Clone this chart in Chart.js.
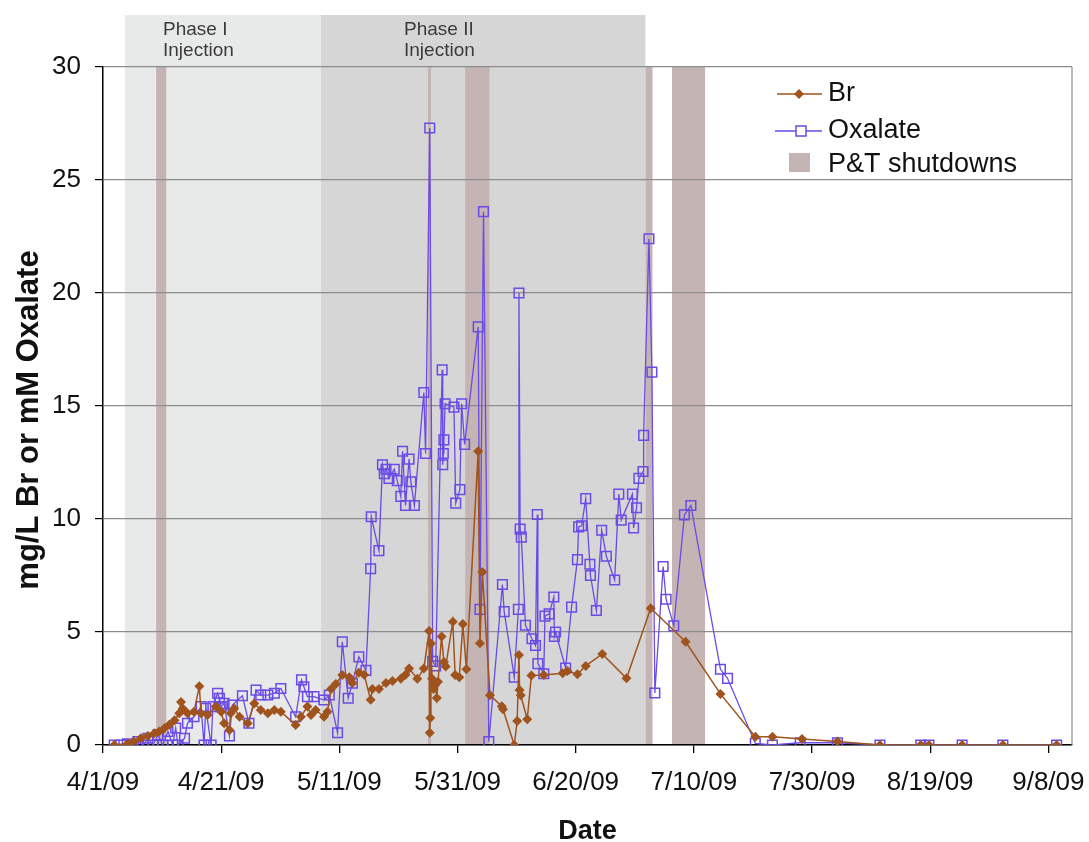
<!DOCTYPE html>
<html>
<head>
<meta charset="utf-8">
<title>Br and oxalate</title>
<script src="https://cdn.jsdelivr.net/npm/chart.js@4.4.1/dist/chart.umd.min.js"></script>
<style>
  body { margin: 0; background: #fff; }
  #wrap { width: 1089px; height: 842px; position: relative; }
</style>
</head>
<body>
<div id="wrap"><canvas id="chart"></canvas></div>
<script>
// sample times are days counted from 4/1/09
const brDays = [1.9, 4.2, 5.2, 6.4, 7.6, 8.7, 9.5, 10.4, 11.2, 12.1, 12.9, 13.2, 13.5, 14.3, 15.4, 16.3, 16.6, 17.7, 19.1, 20.0,
  20.5, 21.4, 21.6, 22.2, 23.1, 24.5, 25.6, 26.7, 27.9, 29.0, 30.1, 32.6, 33.5, 34.6, 35.2, 36.0, 37.4, 38.0, 38.6, 39.4,
  40.5, 41.7, 42.2, 43.3, 44.2, 45.3, 45.6, 46.7, 47.9, 49.0, 50.4, 51.2, 51.8, 53.2, 54.3, 55.2, 55.3, 55.4, 55.5, 55.7,
  55.9, 56.2, 56.5, 56.7, 57.3, 57.7, 58.0, 59.2, 59.6, 60.3, 60.9, 61.5, 63.5, 63.8, 64.2, 65.5, 67.5, 67.7, 69.6, 70.1,
  70.4, 70.5, 70.7, 71.8, 72.5, 74.6, 77.8, 78.6, 80.3, 81.7, 84.5, 88.6, 92.7, 98.6, 104.5, 110.4, 113.3, 118.3, 124.3, 131.5,
  138.4, 139.8, 145.4, 152.3, 161.4];
const brValues = [0, 0.07, 0.15, 0.3, 0.4, 0.52, 0.6, 0.74, 0.9, 1.1, 1.4, 1.9, 1.62, 1.4, 1.47, 2.6, 1.4, 1.33, 1.7, 1.47,
  0.96, 0.66, 1.4, 1.62, 1.25, 0.96, 1.84, 1.55, 1.4, 1.55, 1.47, 0.88, 1.25, 1.7, 1.33, 1.55, 1.25, 1.47, 2.48, 2.7,
  3.1, 3.0, 2.74, 3.2, 3.11, 2.0, 2.48, 2.48, 2.74, 2.83, 2.93, 3.11, 3.38, 2.93, 3.38, 5.04, 0.54, 1.19, 4.49, 2.93,
  2.48, 2.65, 2.08, 2.8, 4.8, 3.67, 3.47, 5.45, 3.1, 3.0, 5.35, 3.35, 13.0, 4.5, 7.65, 2.2, 1.72, 1.58, 0, 1.06,
  3.98, 2.43, 2.2, 1.14, 3.07, 3.1, 3.17, 3.27, 3.13, 3.5, 4.03, 2.95, 6.05, 4.57, 2.26, 0.37, 0.37, 0.27, 0.15, 0,
  0, 0, 0, 0, 0];

const oxDays = [1.9, 3.0, 4.1, 4.9, 5.9, 6.8, 7.6, 8.5, 9.3, 10.1, 11.0, 11.8, 12.3, 12.7, 13.8, 14.3, 15.4, 16.6, 17.1, 17.4,
  18.3, 18.6, 19.4, 19.7, 20.0, 20.5, 21.4, 21.9, 23.6, 24.7, 25.9, 26.7, 27.9, 29.0, 30.1, 32.6, 33.6, 34.0, 34.6, 35.7,
  37.4, 38.3, 39.7, 40.5, 41.5, 42.2, 43.3, 44.5, 45.3, 45.4, 46.7, 47.3, 47.6, 47.9, 48.4, 49.3, 49.8, 50.4, 50.7, 51.2,
  51.8, 52.1, 52.7, 54.3, 54.6, 55.3, 55.8, 56.3, 57.4, 57.5, 57.6, 57.7, 57.9, 59.4, 59.7, 60.4, 60.7, 61.2, 63.5, 63.8,
  64.4, 65.3, 67.6, 67.9, 69.6, 70.3, 70.4, 70.6, 70.8, 71.5, 72.6, 73.2, 73.5, 73.6, 74.6, 74.8, 75.5, 76.3, 76.4, 76.6,
  78.3, 79.3, 80.3, 80.5, 81.0, 81.7, 82.4, 82.5, 83.5, 84.4, 85.2, 86.6, 87.3, 87.7, 89.6, 89.8, 90.3, 90.7, 91.4, 91.5,
  92.4, 92.9, 93.4, 94.8, 95.3, 96.6, 98.4, 99.5, 104.5, 105.7, 110.4, 113.3, 118.0, 124.3, 131.5, 138.4, 139.8, 145.4, 152.3, 161.4];
const oxValues = [0, 0, 0.05, 0, 0.15, 0, 0.3, 0, 0.45, 0, 0.6, 0, 0.75, 0, 0.3, 0.96, 1.25, 1.7, 0, 1.62,
  0, 1.7, 2.29, 2.07, 1.7, 1.84, 0.4, 1.77, 2.18, 0.96, 2.43, 2.21, 2.21, 2.29, 2.5, 1.25, 2.88, 2.58, 2.14, 2.14,
  1.99, 2.21, 0.54, 4.57, 2.07, 2.73, 3.9, 3.3, 7.8, 10.1, 8.6, 12.4, 12.0, 12.2, 11.8, 12.2, 11.7, 11.0, 13.0, 10.6,
  12.65, 11.65, 10.6, 15.6, 12.9, 27.3, 3.7, 3.5, 16.6, 12.4, 12.9, 13.5, 15.1, 14.95, 10.7, 11.3, 15.1, 13.3, 18.5, 6.0,
  23.6, 0.15, 7.1, 5.9, 3.0, 6.0, 20.0, 9.55, 9.2, 5.3, 4.7, 4.4, 10.2, 3.6, 3.15, 5.7, 5.8, 6.55, 4.8, 5.0,
  3.4, 6.1, 8.2, 9.65, 9.7, 10.9, 8.0, 7.5, 5.95, 9.5, 8.35, 7.3, 11.1, 9.95, 11.1, 9.6, 10.5, 11.8, 12.1, 13.7,
  22.4, 16.5, 2.3, 7.9, 6.45, 5.27, 10.18, 10.6, 3.35, 2.95, 0.07, 0, 0.1, 0.1, 0, 0, 0, 0, 0, 0];

const phaseLabels = [['Phase I', 'Injection'], ['Phase II', 'Injection']];
const phaseStart = [3.7, 36.9];
const phaseEnd = [36.9, 91.8];
const shutdownStart = [9.0, 55.0, 61.3, 91.8, 96.3];
const shutdownEnd = [10.7, 55.5, 65.4, 93.0, 101.9];
const xTicks = [0, 20, 40, 60, 80, 100, 120, 140, 160];

const FONT = '"Liberation Sans", Arial, Helvetica, sans-serif';
const brColor = '#a0531c';
const oxColor = '#6a4be6';
const phaseColors = ['#e8eaea', '#d6d6d6'];
const shutdownColor = '#c4b4b4';

function dateLabel(day) {
  const d = new Date(2009, 3, 1 + day);
  return (d.getMonth() + 1) + '/' + d.getDate() + '/09';
}

const pairs = (xs, ys) => xs.map((x, i) => ({ x: x, y: ys[i] }));

const backdrop = {
  id: 'backdrop',
  beforeDraw(chart) {
    const { ctx, chartArea: a } = chart;
    const x = chart.scales.x;
    ctx.save();
    ctx.fillStyle = '#fff';
    ctx.fillRect(0, 0, chart.width, chart.height);
    // phase bands reach above the plot
    phaseStart.forEach((s, i) => {
      const x0 = x.getPixelForValue(s), x1 = x.getPixelForValue(phaseEnd[i]);
      ctx.fillStyle = phaseColors[i];
      ctx.fillRect(x0, 15, x1 - x0, a.bottom - 15);
    });
    ctx.fillStyle = shutdownColor;
    shutdownStart.forEach((s, i) => {
      const x0 = x.getPixelForValue(s), x1 = x.getPixelForValue(shutdownEnd[i]);
      ctx.fillRect(x0, a.top, x1 - x0, a.bottom - a.top);
    });
    // phase captions
    const labelX = [163, 404];
    ctx.fillStyle = '#3a3a3a';
    ctx.font = '19px ' + FONT;
    ctx.textBaseline = 'middle';
    phaseLabels.forEach((lines, i) => {
      lines.forEach((t, j) => ctx.fillText(t, labelX[i], 30 + j * 21));
    });
    ctx.restore();
  },
  afterDraw(chart) {
    const { ctx, chartArea: a } = chart;
    ctx.save();
    // right frame
    ctx.strokeStyle = '#8c8c8c';
    ctx.lineWidth = 1.2;
    ctx.beginPath();
    ctx.moveTo(a.right, a.top);
    ctx.lineTo(a.right, a.bottom);
    ctx.stroke();

    // y axis title, sits a little below the axis middle
    ctx.save();
    ctx.translate(29, 420);
    ctx.rotate(-Math.PI / 2);
    ctx.font = 'bold 31px ' + FONT;
    ctx.textAlign = 'center';
    ctx.textBaseline = 'middle';
    ctx.fillStyle = '#111';
    ctx.fillText('mg/L Br or mM Oxalate', 0, 0);
    ctx.restore();

    // legend
    ctx.font = '27px ' + FONT;
    ctx.textBaseline = 'middle';
    ctx.fillStyle = '#111';
    ctx.strokeStyle = brColor;
    ctx.lineWidth = 1.5;
    ctx.beginPath(); ctx.moveTo(777, 94); ctx.lineTo(822, 94); ctx.stroke();
    ctx.fillStyle = brColor;
    ctx.beginPath();
    ctx.moveTo(799, 89); ctx.lineTo(804, 94); ctx.lineTo(799, 99); ctx.lineTo(794, 94);
    ctx.closePath(); ctx.fill();
    ctx.fillStyle = '#111';
    ctx.fillText('Br', 828, 94);

    ctx.strokeStyle = oxColor;
    ctx.lineWidth = 1.3;
    ctx.beginPath(); ctx.moveTo(775, 131); ctx.lineTo(796, 131); ctx.moveTo(806, 131); ctx.lineTo(822, 131); ctx.stroke();
    ctx.lineWidth = 1.5;
    ctx.strokeRect(796, 126, 10, 10);
    ctx.fillText('Oxalate', 828, 131);

    ctx.fillStyle = shutdownColor;
    ctx.fillRect(789, 153, 21, 19);
    ctx.fillStyle = '#111';
    ctx.fillText('P&T shutdowns', 828, 165);
    ctx.restore();
  }
};

new Chart(document.getElementById('chart'), {
  type: 'line',
  data: {
    datasets: [
      {
        label: 'Br',
        data: pairs(brDays, brValues),
        borderColor: brColor,
        backgroundColor: brColor,
        borderWidth: 1.5,
        pointStyle: 'rectRot',
        pointRadius: 5,
        pointBorderWidth: 0,
        pointBackgroundColor: brColor,
        order: 0
      },
      {
        label: 'Oxalate',
        data: pairs(oxDays, oxValues),
        borderColor: oxColor,
        borderWidth: 1.3,
        pointStyle: 'rect',
        pointRadius: 6.8,
        pointBorderWidth: 1.5,
        pointBorderColor: oxColor,
        pointBackgroundColor: 'rgba(0,0,0,0)',
        order: 1
      }
    ]
  },
  options: {
    responsive: true,
    maintainAspectRatio: false,
    animation: false,
    layout: { padding: { top: 67, right: 17, left: 0, bottom: 0 } },
    plugins: { legend: { display: false }, tooltip: { enabled: false } },
    scales: {
      x: {
        type: 'linear', min: 0, max: 164,
        afterBuildTicks: s => { s.ticks = xTicks.map(v => ({ value: v })); },
        afterFit: s => { s.height = 97; s.paddingLeft = 0; s.paddingRight = 0; },
        grid: { drawOnChartArea: false, drawTicks: true, tickLength: 8, color: '#000', lineWidth: 1.3 },
        border: { color: '#000', width: 1.5 },
        ticks: { callback: v => dateLabel(v), font: { size: 26, family: FONT }, color: '#111', padding: 14, maxRotation: 0, autoSkip: false },
        title: { display: true, text: 'Date', font: { size: 27, weight: 'bold', family: FONT }, color: '#111', padding: { top: 10, bottom: -6 } }
      },
      y: {
        min: 0, max: 30,
        afterFit: s => { s.width = 103; },
        grid: { color: '#8c8c8c', tickColor: '#000', tickLength: 8, lineWidth: 1.2 },
        border: { color: '#000', width: 1.5 },
        ticks: { stepSize: 5, font: { size: 26, family: FONT }, color: '#111', padding: 14 },
        title: { display: false }
      }
    }
  },
  plugins: [backdrop]
});
</script>
</body>
</html>
